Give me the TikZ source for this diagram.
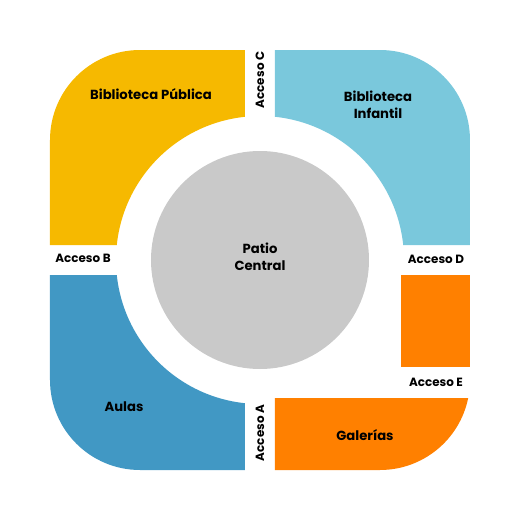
\documentclass[tikz,border=0pt]{standalone}
\usepackage{fontspec}
\setmainfont{Poppins}
\usetikzlibrary{calc}
\definecolor{amarillo}{HTML}{F6B900}
\definecolor{celeste}{HTML}{7AC8DC}
\definecolor{azul}{HTML}{4198C4}
\definecolor{naranja}{HTML}{FF8000}
\definecolor{gris}{HTML}{C9C9C9}
\tikzset{
    zona/.style = {font=\bfseries\fontsize{7.5}{9.8}\selectfont, align=center, text=black},
    acceso/.style = {font=\bfseries\fontsize{6.8}{8}\selectfont, text=black, inner sep=0pt}
}

\begin{document}
\begin{tikzpicture}[x=0.2cm, y=0.2cm]
    \useasboundingbox (-26,-26) rectangle (26,26);
    % cuatro zonas
    \fill[amarillo] (-1.5,21) -- (-12,21) arc[start angle=90, end angle=180, radius=9] -- (-21,1.5) -- (174.02:14.4) arc[start angle=174.02, end angle=95.98, radius=14.4] -- cycle;
    \fill[celeste] (1.5,21) -- (12,21) arc[start angle=90, end angle=0, radius=9] -- (21,1.5) -- (5.98:14.4) arc[start angle=5.98, end angle=84.02, radius=14.4] -- cycle;
    \fill[azul] (-21,-1.5) -- (-21,-12) arc[start angle=180, end angle=270, radius=9] -- (-1.5,-21) -- (264.02:14.4) arc[start angle=264.02, end angle=185.98, radius=14.4] -- cycle;
    \fill[naranja] (14.1,-1.5) rectangle (21,-10.7);
    \fill[naranja] (1.5,-13.8) -- (20.82,-13.8) arc[start angle=-11.54, end angle=-90, radius=9] -- (1.5,-21) -- cycle;
    \fill[gris] (0,0) circle[radius=10.9];
    % nombres
    \node[zona] (patio) at (0,0.3) {Patio\\Central};
    \node[zona] (publica) at (-10.9,16.6) {Biblioteca Pública};
    \node[zona] (infantil) at (11.8,15.5) {Biblioteca\\Infantil};
    \node[zona] (aulas) at (-13.6,-14.7) {Aulas};
    \node[zona] (galerias) at (10.5,-17.5) {Galerías};
    % accesos
    \node[acceso] (accA) at (0,-17.3) [rotate=90] {Acceso A};
    \node[acceso] (accB) at (-17.7,0.2) {Acceso B};
    \node[acceso] (accC) at (0,18) [rotate=90] {Acceso C};
    \node[acceso] (accD) at (17.6,0.1) {Acceso D};
    \node[acceso] (accE) at (17.6,-12.2) {Acceso E};
\end{tikzpicture}
\end{document}
